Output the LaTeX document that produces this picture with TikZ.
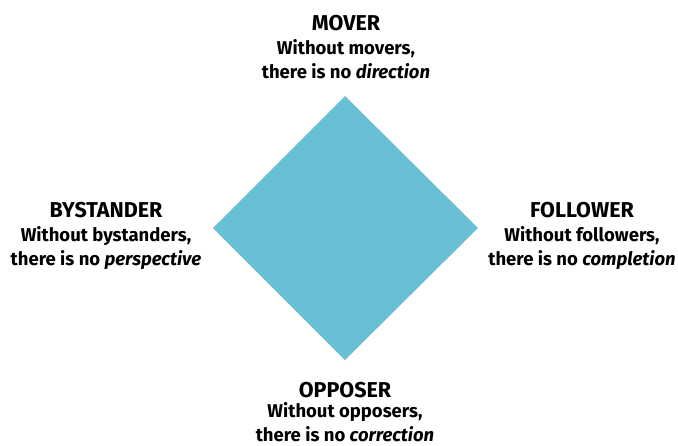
\documentclass[tikz,border=0pt]{standalone}
\usepackage{fontspec}
\setmainfont{Fira Sans}
\definecolor{roleblue}{RGB}{105,191,212}
\tikzset{
  roletitle/.style={font=\bfseries\fontsize{21.5}{24}\selectfont, inner sep=0pt, anchor=base},
  roledesc/.style={font=\bfseries\fontsize{18.5}{24}\selectfont, inner sep=0pt, anchor=base, align=center}
}
\begin{document}
\begin{tikzpicture}[x=1pt, y=-1pt]
  \useasboundingbox (0,0) rectangle (678,445);
  % diamond
  \coordinate (top) at (345,96);
  \coordinate (right) at (478,228);
  \coordinate (bottom) at (345,360);
  \coordinate (left) at (213,228);
  \fill[roleblue] (top) -- (right) -- (bottom) -- (left) -- cycle;
  % roles (desc nodes sit on the baseline of their last line)
  \node[roletitle] (mover) at (346,30) {MOVER};
  \node[roledesc] (moverdesc) at (346,78) {Without movers,\\there is no \textit{direction}};
  \node[roletitle] (bystander) at (106,217) {BYSTANDER};
  \node[roledesc] (bystanderdesc) at (106,265) {Without bystanders,\\there is no \textit{perspective}};
  \node[roletitle] (follower) at (582,217) {FOLLOWER};
  \node[roledesc] (followerdesc) at (582,265) {Without followers,\\there is no \textit{completion}};
  \node[roletitle] (opposer) at (345,397) {OPPOSER};
  \node[roledesc] (opposerdesc) at (345,441) {Without opposers,\\there is no \textit{correction}};
\end{tikzpicture}
\end{document}
